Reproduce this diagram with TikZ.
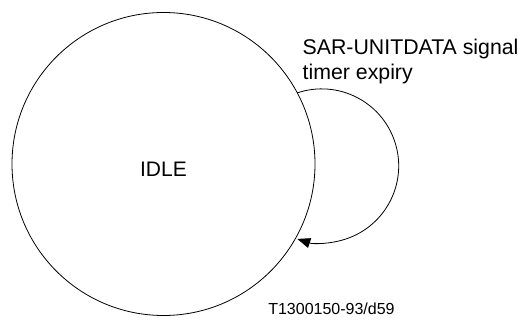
\documentclass[tikz,border=0pt]{standalone}
\usepackage{fontspec}
\setmainfont{Liberation Sans}
\usetikzlibrary{arrows.meta}
\begin{document}
\begin{tikzpicture}[x=1pt,y=1pt,
  statecirc/.style={draw,circle,line width=0.8pt,minimum size=303pt,inner sep=0pt,outer sep=0pt,
    font=\fontsize{21}{24}\selectfont,text height=25pt,text depth=0pt},
  conn/.style={line width=0.8pt,-{Triangle[length=13pt,width=10pt]}},
  lbl/.style={inner sep=0pt,outer sep=0pt,font=\fontsize{21.3}{24.5}\selectfont,align=left},
  foot/.style={inner sep=0pt,outer sep=0pt,font=\fontsize{16}{18}\selectfont}]
\useasboundingbox (0,0) rectangle (520,-320);
\node[statecirc] (idle) at (163.5,-164) {IDLE};
\draw[conn] (idle.28.5) arc[start angle=108.5,end angle=-108.5,radius=77];
\node[lbl,anchor=base west] (trig) at (302.7,-79.5) {SAR-UNITDATA signal\\timer expiry};
\node[foot,anchor=base west] (ref) at (268.3,-315) {T1300150-93/d59};
\end{tikzpicture}
\end{document}
